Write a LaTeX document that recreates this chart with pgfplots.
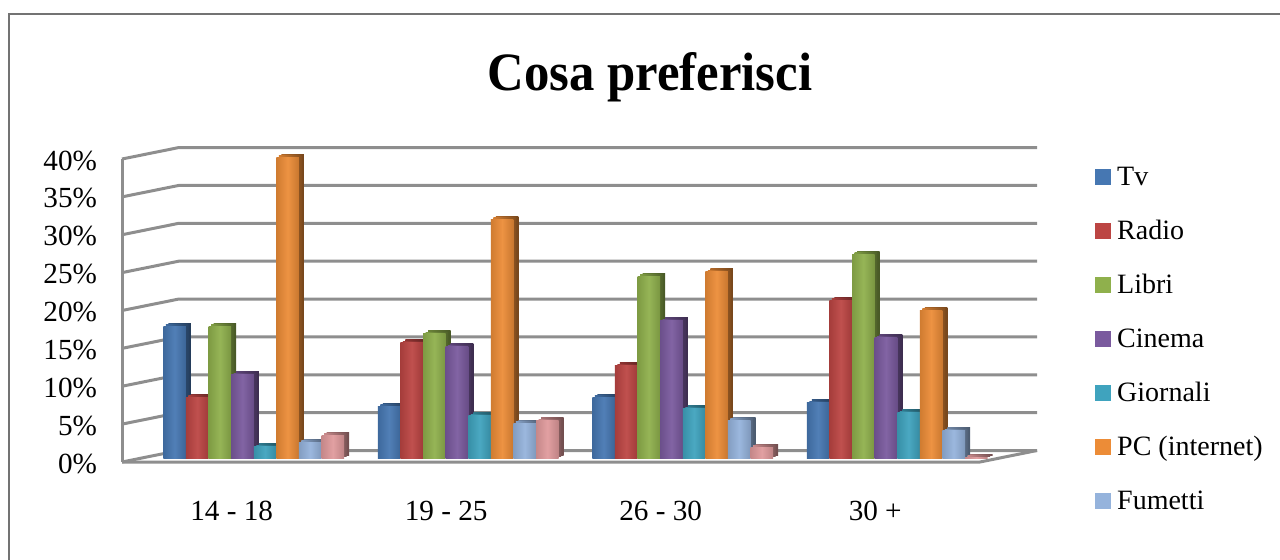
\documentclass[border=0pt]{standalone}
\usepackage{fontspec}
\setmainfont{Liberation Serif}
\usepackage{pgfplots}
\usepackage{pgfplotstable}
\pgfplotsset{compat=1.18}

% 1 px of the reference = 0.5pt
\definecolor{tvc}{HTML}{4677B2}
\definecolor{radioc}{HTML}{BC4543}
\definecolor{libric}{HTML}{8FB04C}
\definecolor{cinec}{HTML}{7A5A9E}
\definecolor{gioc}{HTML}{3FA3BE}
\definecolor{pcc}{HTML}{EC8C37}
\definecolor{fumc}{HTML}{95B3DC}
\definecolor{altc}{HTML}{E09A9C}
\definecolor{wallc}{HTML}{8E8E8E}

% horizontal shadings, one set per colour
\newcommand{\mkshade}[1]{%
  \pgfdeclarehorizontalshading{#1front}{100bp}{color(0bp)=(#1!88!black); color(25bp)=(#1!88!black);
    color(50bp)=(#1!94!white); color(75bp)=(#1!85!black); color(100bp)=(#1!85!black)}%
  \pgfdeclarehorizontalshading{#1mid}{100bp}{color(0bp)=(#1!90!black); color(25bp)=(#1!90!black);
    color(75bp)=(#1!55!black); color(100bp)=(#1!55!black)}%
  \pgfdeclarehorizontalshading{#1back}{100bp}{color(0bp)=(#1!75!black); color(25bp)=(#1!75!black);
    color(75bp)=(#1!50!black); color(100bp)=(#1!50!black)}%
}
\mkshade{tvc}\mkshade{radioc}\mkshade{libric}\mkshade{cinec}
\mkshade{gioc}\mkshade{pcc}\mkshade{fumc}\mkshade{altc}

\pgfplotstableread{
x   tv   radio libri cinema giornali pc   fumetti altro
0.5 17.4 8.0   17.4  11.0   1.5      39.7 2.1     3.0
1.5 6.8  15.2  16.4  14.7   5.6      31.5 4.6     4.9
2.5 8.0  12.2  24.0  18.1   6.5      24.6 5.0     1.4
3.5 7.3  20.8  26.9  15.9   6.0      19.5 3.6     0.1
}\chartdata

% one bar: side and top (two shifted copies), then the front face
% a plot's bars share one shading, so each group gets its own plots
\newcommand{\onebar}[4]{%
  \addplot[ybar, bar width=11.3pt, bar shift=#2, xshift=14.75pt, yshift=3.5pt, draw=none,
    shade, shading=#3back, forget plot, restrict x to domain=#4] table[x=x,y=#1] {\chartdata};
  \addplot[ybar, bar width=11.3pt, bar shift=#2, xshift=13.5pt, yshift=2.75pt, draw=none,
    shade, shading=#3mid, forget plot, restrict x to domain=#4] table[x=x,y=#1] {\chartdata};
  \addplot[ybar, bar width=11.3pt, bar shift=#2, xshift=12.25pt, yshift=2pt, draw=none,
    shade, shading=#3front, forget plot, restrict x to domain=#4] table[x=x,y=#1] {\chartdata};
}
\newcommand{\serie}[3]{%
  \onebar{#1}{#2}{#3}{0:1}\onebar{#1}{#2}{#3}{1:2}\onebar{#1}{#2}{#3}{2:3}\onebar{#1}{#2}{#3}{3:4}%
}

\begin{document}
\begin{tikzpicture}[x=1pt,y=1pt]
\useasboundingbox (0,0) rectangle (640,279.5);
\draw[black!55, line width=1.2pt] (4.5,-2) -- (4.5,272.5) -- (644,272.5);
\begin{axis}[
    at={(61pt,48.5pt)}, anchor=south west,
    scale only axis, width=429pt, height=151.5pt,
    xmin=0, xmax=4, ymin=0, ymax=40,
    clip=false,
    axis line style={draw=none},
    tick style={draw=none},
    xtick={0.5,1.5,2.5,3.5},
    xticklabels={14 - 18,19 - 25,26 - 30,30 +},
    ytick={0,5,...,40},
    yticklabel={\pgfmathprintnumber{\tick}\%},
    /pgf/number format/assume math mode=true,
    ticklabel style={font=\fontsize{14.6}{16}\selectfont},
    yticklabel style={xshift=-9pt, yshift=-0.75pt},
    xticklabel style={yshift=-16pt, xshift=1.25pt},
    legend style={at={(483.5pt,150.5pt)}, anchor=north west, draw=none, fill=none,
      font=\fontsize{14}{16}\selectfont, row sep=14pt,
      nodes={text height=10pt, text depth=3pt, inner sep=0pt}},
    legend cell align=left,
    legend image code/.code={\fill[#1] (0pt,-3pt) rectangle (7.5pt,4.5pt); \path (10.5pt,0pt);},
]
% walls and floor
\pgfplotsinvokeforeach{0,5,...,40}{
  \draw[wallc, line width=1.5pt] (axis cs:0,#1) -- ++(28.5pt,5.75pt) -- ++(429pt,0pt);
}
\draw[wallc, line width=1.5pt] (axis cs:0,0) -- (axis cs:0,40);
\draw[wallc, line width=1.5pt] (axis cs:0,0) -- (axis cs:4,0) -- ++(28.5pt,5.75pt);

\serie{tv}{-39.55pt}{tvc}
\serie{radio}{-28.25pt}{radioc}
\serie{libri}{-16.95pt}{libric}
\serie{cinema}{-5.65pt}{cinec}
\serie{giornali}{5.65pt}{gioc}
\serie{pc}{16.95pt}{pcc}
\serie{fumetti}{28.25pt}{fumc}
\serie{altro}{39.55pt}{altc}

% legend has seven entries, the eighth series has none in the source
\addlegendimage{tvc}\addlegendentry{Tv}
\addlegendimage{radioc}\addlegendentry{Radio}
\addlegendimage{libric}\addlegendentry{Libri}
\addlegendimage{cinec}\addlegendentry{Cinema}
\addlegendimage{gioc}\addlegendentry{Giornali}
\addlegendimage{pcc}\addlegendentry{PC (internet)}
\addlegendimage{fumc}\addlegendentry{Fumetti}
\end{axis}
\node[font=\bfseries\fontsize{27}{30}\selectfont, anchor=base, xscale=0.94, transform shape] at (325,234.5) {Cosa preferisci};
\end{tikzpicture}
\end{document}
